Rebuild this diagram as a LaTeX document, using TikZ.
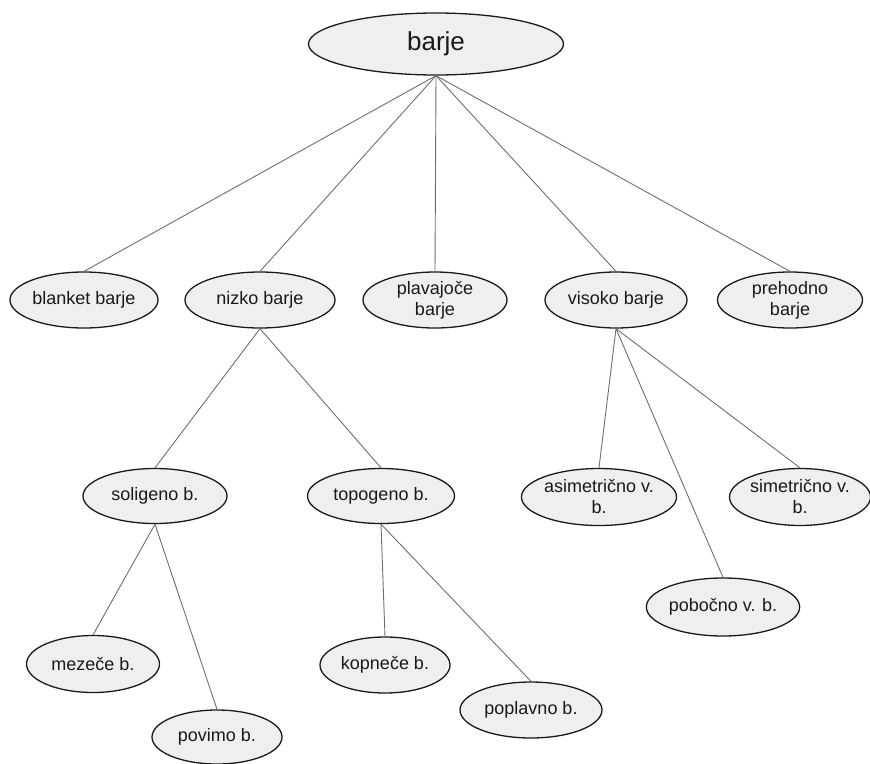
\documentclass[tikz,border=0pt]{standalone}
\usepackage{fontspec}
\setmainfont{Liberation Sans}
\usepackage{xcolor}
\usepackage{tikz}
\usetikzlibrary{shapes.geometric}

\definecolor{bogfill}{HTML}{EFEFEF}
\definecolor{bogline}{HTML}{1A1A1A}
\definecolor{branchgray}{HTML}{6E6E6E}

\tikzset{
    bog/.style={ellipse,draw=bogline,line width=1.3pt,fill=bogfill,inner sep=0pt,
        align=center,text=black!90,font=\fontsize{18}{21}\selectfont},
    branch/.style={draw=branchgray,line width=0.9pt}
}

\begin{document}
\begin{tikzpicture}[x=1pt,y=-1pt]
        \useasboundingbox (0,0) rectangle (870,763);
        % top
        \node[bog,minimum width=255pt,minimum height=62pt,font=\fontsize{26}{30}\selectfont] (barje) at (436,44) {barje};
        % first level
        \node[bog,minimum width=148pt,minimum height=56pt] (blanket) at (84,300) {blanket barje};
        \node[bog,minimum width=150pt,minimum height=56pt] (nizko) at (260,300) {nizko barje};
        \node[bog,minimum width=144pt,minimum height=56pt] (plavajoce) at (435,300) {plavajoče\\barje};
        \node[bog,minimum width=142pt,minimum height=56pt] (visoko) at (616,300) {visoko barje};
        \node[bog,minimum width=145pt,minimum height=56pt] (prehodno) at (790,300) {prehodno\\barje};
        % under nizko barje
        \node[bog,minimum width=144pt,minimum height=55pt] (soligeno) at (155,496) {soligeno b.};
        \node[bog,minimum width=147pt,minimum height=55pt] (topogeno) at (381,496) {topogeno b.};
        \node[bog,minimum width=133pt,minimum height=57pt] (mezece) at (93,664) {mezeče b.};
        \node[bog,minimum width=130pt,minimum height=54pt] (povimo) at (217,737) {povimo b.};
        \node[bog,minimum width=130pt,minimum height=56pt] (kopnece) at (385,665) {kopneče b.};
        \node[bog,minimum width=142pt,minimum height=56pt] (poplavno) at (531,710) {poplavno b.};
        % under visoko barje
        \node[bog,minimum width=155pt,minimum height=57pt] (asimetricno) at (599,497) {asimetrično v.\\b.};
        \node[bog,minimum width=140pt,minimum height=57pt] (simetricno) at (800,497) {simetrično v.\\b.};
        \node[bog,minimum width=153pt,minimum height=58pt] (pobocno) at (723,607) {pobočno v. b.};
        % branches
        \foreach \kid in {blanket,nizko,plavajoce,visoko,prehodno}
            \draw[branch] (barje.south) -- (\kid.north);
        \foreach \kid in {soligeno,topogeno}
            \draw[branch] (nizko.south) -- (\kid.north);
        \foreach \kid in {mezece,povimo}
            \draw[branch] (soligeno.south) -- (\kid.north);
        \foreach \kid in {kopnece,poplavno}
            \draw[branch] (topogeno.south) -- (\kid.north);
        \foreach \kid in {asimetricno,pobocno,simetricno}
            \draw[branch] (visoko.south) -- (\kid.north);
    \end{tikzpicture}
\end{document}
